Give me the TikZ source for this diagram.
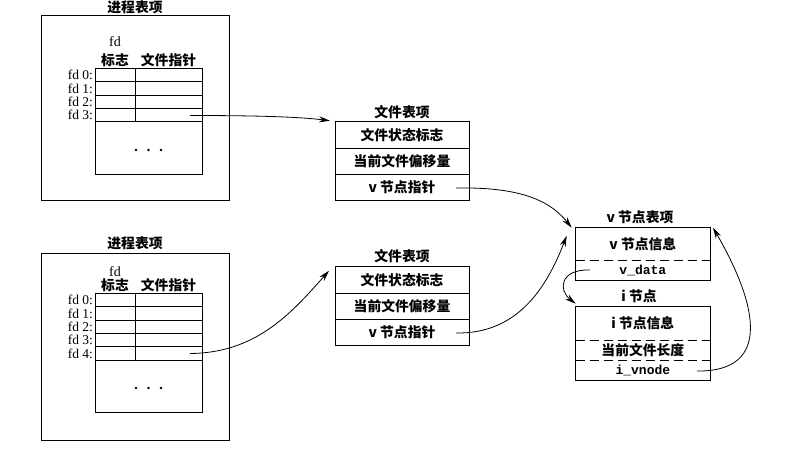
\documentclass[tikz,border=0pt]{standalone}
\usepackage{fontspec}
\setmainfont{Liberation Serif}
\newfontfamily\cjk{Noto Sans CJK SC}
\newfontfamily\mono{Liberation Mono}
\usetikzlibrary{arrows.meta}
\begin{document}
\begin{tikzpicture}[x=1pt,y=-1pt,
  every node/.style={inner sep=0pt, outer sep=0pt},
  box/.style={draw, line width=0.9pt},
  cell/.style={draw, line width=0.8pt, minimum height=13.35pt},
  fdcell/.style={cell, minimum width=40pt},
  ptrcell/.style={cell, minimum width=67pt},
  dotbox/.style={draw, line width=0.8pt, minimum width=107pt, minimum height=52.6pt},
  lbl/.style={font=\fontsize{13.5}{15}\selectfont, anchor=east},
  lat/.style={font=\fontsize{14}{16}\selectfont},
  ttl/.style={font=\cjk\bfseries\fontsize{13.8}{16}\selectfont},
  frow/.style={draw, line width=0.9pt, minimum width=134pt, minimum height=26.3pt, font=\cjk\bfseries\fontsize{13.8}{16}\selectfont},
  vrow/.style={minimum width=134.3pt, font=\cjk\bfseries\fontsize{13.8}{16}\selectfont},
  mrow/.style={minimum width=134.3pt, font=\mono\bfseries\fontsize{13}{14}\selectfont},
  sep/.style={line width=0.9pt, dash pattern=on 9pt off 5pt},
  frame/.style={line width=0.9pt},
  arr/.style={line width=0.8pt, -{Stealth[length=11pt,width=6pt]}},
]
\useasboundingbox (0,0) rectangle (801,452);

% ---------- process table 1 ----------
\node[box, minimum width=188pt, minimum height=185pt] (p1) at (135,107.5) {};
\node[ttl] (p1t) at (135,7) {进程表项};
\node[lat] (p1fd) at (115,42) {fd};
\node[ttl] (p1h1) at (115,60) {标志};
\node[ttl] (p1h2) at (168.5,60) {文件指针};
\foreach \i in {0,...,3} {
  \pgfmathsetmacro\yy{75+13.35*\i}
  \node[fdcell] (p1f\i) at (115,\yy) {};
  \node[ptrcell] (p1p\i) at (168.5,\yy) {};
  \node[lbl] (p1l\i) at (93,\yy) {fd \i:};
}
\node[dotbox] (p1d) at (148.5,148) {};
\foreach \x in {136,148.5,161} \fill (\x,150) circle (1.4);

% ---------- process table 2 ----------
\node[box, minimum width=188pt, minimum height=187pt] (p2) at (135,346.5) {};
\node[ttl] (p2t) at (135,243) {进程表项};
\node[lat] (p2fd) at (115,271.7) {fd};
\node[ttl] (p2h1) at (115,285.7) {标志};
\node[ttl] (p2h2) at (168.5,285.7) {文件指针};
\foreach \i in {0,...,4} {
  \pgfmathsetmacro\yy{300+13.35*\i}
  \node[fdcell] (p2f\i) at (115,\yy) {};
  \node[ptrcell] (p2p\i) at (168.5,\yy) {};
  \node[lbl] (p2l\i) at (93,\yy) {fd \i:};
}
\node[dotbox] (p2d) at (148.5,386.35) {};
\foreach \x in {136,148.5,161} \fill (\x,388) circle (1.4);

% ---------- file table 1 ----------
\node[ttl] (f1t) at (402,112) {文件表项};
\node[frow] (f1a) at (402,134.85) {文件状态标志};
\node[frow] (f1b) at (402,161.15) {当前文件偏移量};
\node[frow] (f1c) at (402,187.45) {v 节点指针};

% ---------- file table 2 ----------
\node[ttl] (f2t) at (402,256) {文件表项};
\node[frow] (f2a) at (402,279.85) {文件状态标志};
\node[frow] (f2b) at (402,306.15) {当前文件偏移量};
\node[frow] (f2c) at (402,332.45) {v 节点指针};

% ---------- v-node ----------
\node[ttl] (vt) at (640,217.5) {v 节点表项};
\node[vrow, minimum height=33pt] (v1) at (642.85,244.2) {v 节点信息};
\node[mrow, minimum height=19.3pt] (v2) at (642.85,270.35) {v\_data};
\draw[frame] (v1.north west) rectangle (v2.south east);
\draw[sep] (v1.south west) -- (v1.south east);

% ---------- i-node ----------
\node[ttl] (it) at (639,296) {i 节点};
\node[vrow, minimum height=33.3pt] (i1) at (642.85,323.35) {i 节点信息};
\node[vrow, minimum height=20pt] (i2) at (642.85,350) {当前文件长度};
\node[mrow, minimum height=20pt] (i3) at (642.85,370) {i\_vnode};
\draw[frame] (i1.north west) rectangle (i3.south east);
\draw[sep] (i1.south west) -- (i1.south east);
\draw[sep] (i2.south west) -- (i2.south east);

% ---------- connectors ----------
\coordinate (s1) at (190,115.5);
\coordinate (s2) at (190,353.5);
\coordinate (s3) at (456,188);
\coordinate (s4) at (456,333);
\coordinate (s5) at (590,270);
\coordinate (s6) at (697,371);
\draw[arr] (s1) .. controls (260,115.5) and (300,117) .. ([xshift=-5pt,yshift=1pt]f1a.north west);
\draw[arr] (s2) .. controls (255,353) and (290,315) .. ([xshift=-6pt,yshift=-4pt]f2a.north west);
\draw[arr] (s3) .. controls (515,187) and (548,198) .. ([xshift=-4pt]v1.north west);
\draw[arr] (s4) .. controls (515,334) and (545,292) .. ([xshift=-9pt,yshift=-8pt]v1.north west);
\draw[arr] (s5) .. controls (560,269) and (558,290) .. ([yshift=3pt]i1.north west);
\draw[arr] (s6) .. controls (775,372) and (755,300) .. ([xshift=3pt]v1.north east);
\end{tikzpicture}
\end{document}
